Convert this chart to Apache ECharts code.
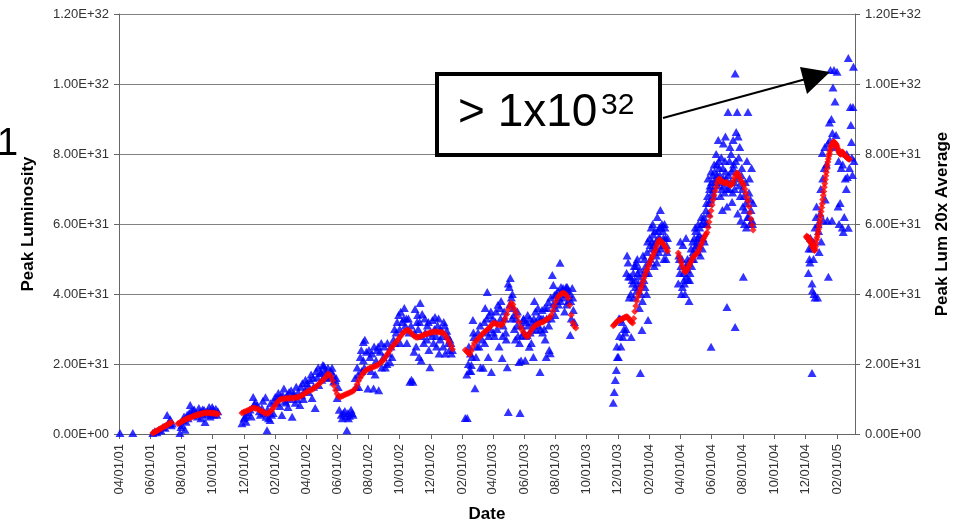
<!DOCTYPE html>
<html>
<head>
<meta charset="utf-8">
<script src="https://cdn.jsdelivr.net/npm/echarts@6/dist/echarts.min.js"></script>
<style>
html,body{margin:0;padding:0;background:#fff;}
#chart{width:963px;height:524px;}
</style>
</head>
<body>
<div id="chart"></div>
<script>
// ---------- DATA ----------
const startDate = '2001-04-01';
const endDate = '2005-03-08';
const tickDates = ['2001-04-01','2001-06-01','2001-08-01','2001-10-01','2001-12-01','2002-02-01','2002-04-01','2002-06-01','2002-08-01','2002-10-01','2002-12-01','2003-02-01','2003-04-01','2003-06-01','2003-08-01','2003-10-01','2003-12-01','2004-02-01','2004-04-01','2004-06-01','2004-08-01','2004-10-01','2004-12-01','2005-02-01'];
const valueUnit = 1e31;

// Peak luminosity (units of 1E31), [days since 04/01/01, value]
const blue2001 = [[2,0.03],[27,0.03],[66,0.03],[70,0.08],[74,0.05],[78,0.12],[82,0.1],[86,0.2],[90,0.18],[94,0.54],[96,0.3],[98,0.31],[100,0.42],[102,0.25],[104,0.3],[119,0.03],[121,0.2],[123,0.26],[125,0.4],[127,0.5],[129,0.12],[131,0.35],[133,0.55],[135,0.45],[137,0.6],[139,0.83],[141,0.65],[143,0.55],[145,0.68],[147,0.7],[150,0.6],[153,0.5],[156,0.74],[158,0.62],[160,0.45],[162,0.58],[163,0.7],[166,0.69],[168,0.34],[169,0.62],[171,0.55],[173,0.65],[176,0.77],[178,0.5],[180,0.6],[182,0.77],[184,0.7],[185,0.55],[187,0.6],[189,0.72],[191,0.55],[193,0.65],[240,0.31],[244,0.45],[246,0.49],[248,0.35],[250,0.55],[252,0.63],[256,0.7],[258,0.5],[262,1.06],[264,0.85],[266,0.9],[270,0.83],[274,0.65]];
const blue2002 = [[276,0.55],[279,0.74],[281,0.95],[283,0.6],[286,1.05],[287,0.49],[289,0.11],[290,0.7],[292,0.45],[295,0.4],[296,0.88],[298,0.55],[301,0.6],[303,0.95],[305,1.06],[308,0.9],[310,1.05],[311,1.17],[314,0.8],[316,1.1],[318,0.54],[320,1.11],[322,1.3],[324,0.95],[326,0.9],[328,1.11],[330,0.77],[332,1.2],[334,1.0],[336,1.25],[338,0.49],[340,1.11],[342,1.15],[344,0.89],[346,1.35],[348,1.0],[350,1.2],[353,0.83],[355,1.35],[357,1.11],[358,1.45],[360,1.0],[363,1.26],[364,1.55],[367,1.46],[369,1.35],[370,1.2],[373,1.54],[375,1.7],[377,1.03],[379,1.6],[380,1.35],[383,0.74],[385,1.8],[387,1.63],[389,1.9],[390,1.4],[393,1.74],[395,1.75],[396,1.55],[398,1.97],[400,1.95],[402,1.83],[404,1.72],[405,1.6],[408,1.89],[410,1.7],[412,1.63],[414,1.8],[416,1.89],[418,1.7],[419,1.5],[422,1.54],[424,1.6],[426,1.03],[428,1.34],[430,0.69],[434,0.55],[436,0.45],[438,0.6],[441,0.66],[443,0.5],[445,0.11],[447,0.6],[448,0.45],[450,0.52],[453,0.69],[455,0.6],[457,0.55]];
const blue2002b = [[461,1.6],[463,1.34],[465,1.9],[467,1.7],[468,1.34],[471,2.2],[473,2.4],[474,1.8],[477,2.11],[477,2.63],[479,1.9],[480,2.69],[483,2.35],[486,1.3],[488,2.4],[490,2.2],[492,1.8],[494,2.3],[497,1.3],[498,2.5],[500,1.7],[502,2.1],[504,2.4],[506,2.5],[507,1.25],[510,2.35],[512,2.6],[513,1.9],[516,2.2],[518,2.5],[520,1.9],[523,2.0],[524,2.6],[526,2.3],[529,2.05],[531,2.5],[533,2.2],[536,2.7],[538,3.0],[539,2.6],[541,2.9],[543,3.2],[546,3.4],[548,3.0],[549,2.6],[550,3.49],[553,3.2],[556,3.3],[557,3.6],[559,3.1],[561,3.3],[562,2.6],[565,3.3],[566,2.9],[568,1.49],[570,3.1],[571,1.55],[574,1.49],[576,2.35],[577,2.9],[578,3.57],[580,2.5],[582,3.2],[583,3.4],[584,3.0],[586,2.2],[587,3.2],[588,3.74],[590,2.1],[591,2.8],[592,3.43],[595,2.6],[597,3.3],[598,2.9],[601,2.7],[602,3.1],[604,3.2],[605,2.4],[607,1.91],[609,2.9],[611,2.8],[612,3.26],[614,2.6],[616,3.0],[617,3.34],[619,2.8],[620,2.5],[622,3.1],[624,3.3],[625,2.3],[627,2.7],[628,3.0],[631,2.8],[633,2.5],[634,3.2],[636,3.1],[637,2.3]];
const blue2003 = [[640,2.95],[642,2.8],[643,2.6],[645,2.4],[646,2.7],[648,2.6],[649,2.3],[651,2.4],[676,0.46],[679,1.7],[680,0.46],[682,2.0],[683,2.5],[684,1.8],[686,2.3],[687,1.8],[688,1.97],[689,2.2],[691,3.26],[692,2.9],[693,2.77],[695,1.31],[697,2.2],[699,2.5],[701,2.9],[703,2.5],[705,3.1],[706,1.9],[709,2.7],[711,1.89],[713,3.2],[714,2.6],[715,3.6],[717,2.9],[718,3.3],[719,4.06],[721,2.2],[722,2.8],[723,3.4],[725,3.0],[726,3.5],[727,1.77],[730,3.3],[731,2.9],[733,2.8],[735,3.2],[736,3.5],[738,3.0],[740,3.69],[742,2.5],[744,3.6],[745,3.3],[746,3.8],[748,2.17],[749,2.8],[750,3.1],[752,3.5],[753,3.3],[755,2.9],[756,2.7],[758,1.91],[760,0.63],[760,4.3],[762,4.2],[763,3.7],[764,4.46],[766,3.9],[767,3.3],[768,4.0],[770,3.6],[771,3.4],[772,3.0],[774,2.7],[775,3.3],[777,3.1],[778,3.5],[779,2.8],[781,2.06],[782,2.6],[783,0.6],[785,2.1],[786,3.1],[787,2.83],[789,3.26],[790,3.3],[791,2.9],[793,2.11],[794,2.8],[795,3.2],[797,2.83],[798,3.4],[799,3.1],[801,2.49],[802,3.3],[803,2.9],[805,2.6],[806,3.0],[807,3.2],[809,2.2],[810,3.3],[811,3.8],[813,3.5],[814,3.2],[815,2.97],[817,3.1],[818,3.6],[820,3.34],[822,1.77],[823,3.0],[824,3.3],[826,3.54],[827,2.9],[828,3.3],[830,3.0],[831,3.6],[832,2.7],[834,2.2],[835,3.3],[836,3.6],[838,3.77],[839,3.1],[840,2.4],[842,2.31],[843,3.9],[844,3.3],[846,4.54],[847,3.7],[848,4.26],[850,3.97],[851,3.4],[852,3.6],[854,4.0],[855,3.8],[857,4.1],[858,3.7],[859,3.9],[861,4.89],[862,3.8],[863,4.2],[865,4.0],[866,4.1],[867,4.17],[869,3.9],[870,3.5],[871,4.1],[873,4.2],[874,3.7],[875,4.2],[877,3.8],[878,4.1],[879,4.0],[881,2.83],[882,3.8],[883,3.3],[885,4.17],[886,3.9],[887,3.54],[889,3.2]];
const blue2003b = [[965,0.89],[967,1.2],[969,1.54],[971,1.83],[972,2.5],[973,2.2],[975,2.2],[976,3.3],[977,2.8],[978,3.3],[980,2.5],[982,3.2],[984,2.77],[986,3.0],[988,2.9],[990,3.0],[991,4.6],[992,5.1],[994,4.9],[995,4.5],[996,3.9],[998,4.5],[999,4.0],[1000,2.77],[1002,4.4],[1003,4.3]];
const blue2004 = [[1004,4.6],[1005,3.9],[1006,4.8],[1007,4.4],[1008,4.2],[1009,4.8],[1010,4.9],[1011,4.1],[1012,5.0],[1013,4.6],[1014,4.3],[1015,4.5],[1016,3.6],[1017,4.7],[1018,1.74],[1019,4.0],[1020,4.3],[1021,2.97],[1022,3.8],[1023,5.1],[1024,4.6],[1025,4.4],[1026,5.0],[1027,4.2],[1028,4.8],[1029,4.6],[1030,4.0],[1031,5.2],[1032,5.5],[1033,3.26],[1034,4.6],[1035,4.9],[1036,5.6],[1037,5.4],[1038,5.0],[1039,5.9],[1040,5.3],[1041,5.5],[1042,6.0],[1043,5.7],[1044,5.4],[1045,4.8],[1046,5.8],[1047,5.3],[1048,5.5],[1049,5.1],[1050,4.9],[1051,6.2],[1052,5.8],[1053,5.6],[1054,5.2],[1055,5.9],[1056,5.6],[1057,6.4],[1058,5.3],[1059,5.9],[1060,6.0],[1061,5.4],[1062,5.8],[1063,5.6],[1064,5.0],[1065,6.0],[1066,5.9],[1067,5.6],[1068,5.0],[1069,5.4],[1070,5.2],[1071,5.6]];
const blue2004b = [[1092,4.3],[1093,5.1],[1094,5.0],[1095,4.6],[1096,5.5],[1097,4.8],[1098,4.0],[1099,5.0],[1100,4.2],[1101,5.4],[1102,4.6],[1103,4.4],[1104,4.3],[1105,4.0],[1106,4.8],[1107,5.6],[1108,4.5],[1109,4.7],[1110,5.0],[1111,4.4],[1112,4.9],[1113,3.8],[1114,4.4],[1115,4.6],[1116,5.0],[1117,5.3],[1118,4.8],[1119,5.0],[1120,5.5],[1121,5.2],[1122,5.0],[1123,5.6],[1124,5.3],[1125,5.9],[1126,5.8],[1127,5.4],[1128,5.5],[1129,5.2],[1130,5.6],[1131,6.0],[1132,5.4],[1133,5.7],[1134,5.9],[1135,5.1],[1136,5.6],[1137,6.2],[1138,6.0],[1139,5.3],[1140,5.6],[1141,6.1],[1142,6.2],[1143,5.5],[1145,6.0],[1146,6.4],[1147,6.6],[1148,6.0],[1149,6.8],[1150,7.3],[1151,6.3],[1152,6.6],[1153,7.0],[1154,7.1],[1155,6.7],[1156,2.49],[1156,7.5],[1157,7.2],[1158,6.9],[1159,7.4],[1160,7.0],[1161,6.8],[1162,7.7],[1163,7.5],[1164,7.2],[1165,7.3],[1166,8.0],[1167,7.7],[1168,7.4],[1169,7.1],[1170,8.4],[1171,7.8],[1172,7.6],[1173,7.4],[1174,6.8],[1175,7.2],[1176,7.9],[1177,7.0],[1178,6.4],[1179,7.6],[1180,7.3],[1180,8.3],[1181,7.1],[1182,6.9],[1183,7.8],[1184,7.5],[1184,8.5],[1185,7.3],[1187,6.5],[1187,3.63],[1188,7.0],[1189,9.2],[1190,7.4],[1191,7.0],[1192,7.8],[1193,8.2],[1194,7.2],[1195,8.0],[1196,7.5],[1197,6.63],[1198,6.9],[1199,7.6],[1199,8.4],[1200,7.7],[1201,7.2],[1202,7.0],[1203,10.3],[1203,3.06],[1204,7.8],[1205,8.63],[1206,7.3],[1207,9.2],[1208,6.3],[1209,8.5],[1210,7.9],[1211,7.1],[1212,8.2],[1213,6.8],[1214,6.1],[1215,7.4],[1216,7.6],[1217,7.0],[1218,6.5],[1219,4.49],[1220,6.8],[1221,6.0],[1222,6.4],[1223,7.2],[1224,6.6],[1225,5.9],[1226,7.8],[1227,6.2],[1228,9.2],[1229,6.2],[1230,6.9],[1231,7.3],[1232,6.0],[1233,6.7],[1234,6.4],[1235,7.6],[1236,6.1],[1237,6.0],[1238,6.6]];
const blue2005 = [[1346,4.6],[1347,5.3],[1348,5.0],[1349,4.9],[1350,5.6],[1351,5.3],[1353,1.74],[1353,4.3],[1354,4.1],[1355,5.5],[1356,5.0],[1357,4.0],[1359,3.9],[1359,5.9],[1361,6.2],[1362,6.5],[1364,3.9],[1365,6.0],[1366,5.8],[1367,5.2],[1369,6.3],[1370,7.0],[1371,5.5],[1373,8.03],[1374,7.3],[1375,6.1],[1377,7.6],[1378,8.2],[1379,6.7],[1381,7.7],[1383,6.1],[1384,8.3],[1385,4.49],[1387,8.9],[1388,8.4],[1389,10.4],[1391,9.0],[1392,6.1],[1393,8.6],[1394,9.9],[1396,10.4],[1398,9.5],[1399,8.2],[1400,8.54],[1402,10.35],[1404,6.5],[1405,7.8],[1406,6.0],[1408,6.6],[1410,7.6],[1412,5.9],[1413,7.7],[1414,5.77],[1416,6.2],[1418,7.3],[1420,7.0],[1421,8.0],[1422,7.34],[1424,10.74],[1424,5.89],[1426,7.6],[1428,9.34],[1429,8.83],[1430,8.34],[1431,7.9],[1432,7.4],[1433,9.34],[1434,10.49],[1435,7.8]];

// 20x average (units of 1E31), runs of readings; start day and day step per run
const redStart = [66, 115, 240, 676, 965, 1092, 1342];
const redStep = [2, 2, 3, 3, 2, 2, 1];
const red1 = [0.03,0.04,0.06,0.08,0.09,0.11,0.13,0.14,0.16,0.18,0.2,0.21,0.23,0.25,0.26,0.28,0.3,0.31,0.33];
const red2 = [0.29,0.31,0.33,0.35,0.36,0.38,0.40,0.41,0.43,0.44,0.45,0.46,0.47,0.48,0.49,0.51,0.52,0.53,0.54,0.55,0.56,0.56,0.57,0.58,0.59,0.59,0.6,0.6,0.61,0.61,0.6,0.61,0.6,0.6,0.59,0.6,0.59,0.58,0.58,0.57];
const red3 = [0.60,0.62,0.64,0.66,0.68,0.70,0.72,0.74,0.74,0.73,0.72,0.70,0.67,0.65,0.62,0.60,0.58,0.59,0.62,0.67,0.72,0.78,0.84,0.91,0.96,0.99,1.00,1.01,1.01,1.02,1.02,1.02,1.03,1.03,1.03,1.04,1.05,1.06,1.08,1.10,1.13,1.16,1.19,1.22,1.24,1.26,1.28,1.31,1.35,1.38,1.42,1.47,1.51,1.55,1.60,1.66,1.72,1.70,1.63,1.52,1.38,1.25,1.14,1.07,1.06,1.08,1.10,1.12,1.14,1.16,1.18,1.20,1.22,1.25,1.32,1.42,1.52,1.61,1.68,1.74,1.79,1.83,1.86,1.88,1.89,1.91,1.92,1.94,1.96,1.99,2.03,2.07,2.11,2.17,2.24,2.30,2.37,2.44,2.51,2.56,2.61,2.66,2.72,2.78,2.84,2.89,2.93,2.96,2.97,2.94,2.89,2.84,2.80,2.77,2.76,2.77,2.79,2.80,2.82,2.84,2.86,2.87,2.89,2.90,2.91,2.92,2.92,2.92,2.91,2.91,2.90,2.89,2.84,2.77,2.70,2.62,2.52,2.42];
const red4 = [2.40,2.36,2.31,2.28,2.38,2.50,2.60,2.66,2.71,2.76,2.80,2.85,2.89,2.93,2.97,3.01,3.06,3.11,3.16,3.17,3.15,3.13,3.12,3.11,3.12,3.20,3.30,3.42,3.55,3.66,3.74,3.70,3.58,3.47,3.35,3.20,3.06,2.97,2.90,2.83,2.78,2.80,2.88,2.96,3.03,3.08,3.11,3.14,3.16,3.18,3.19,3.21,3.24,3.27,3.30,3.33,3.40,3.52,3.66,3.79,3.89,3.95,3.99,4.02,4.03,4.01,3.96,3.88,3.68,3.40,3.18,3.08,3.03];
const red5 = [3.09,3.12,3.15,3.19,3.22,3.24,3.26,3.27,3.28,3.30,3.31,3.33,3.34,3.35,3.34,3.30,3.26,3.22,3.19,3.17,3.30,3.50,3.66,3.80,3.92,4.02,4.10,4.18,4.26,4.36,4.46,4.55,4.64,4.70,4.78,4.86,4.93,5.00,5.06,5.12,5.19,5.26,5.34,5.43,5.50,5.54,5.52,5.49,5.46,5.42,5.38,5.33,5.28,5.22];
const red6 = [5.17,5.08,4.98,4.89,4.80,4.72,4.65,4.63,4.66,4.72,4.78,4.84,4.90,4.96,5.02,5.07,5.10,5.13,5.16,5.20,5.26,5.33,5.40,5.47,5.54,5.60,5.66,5.71,5.76,5.90,6.06,6.22,6.38,6.54,6.69,6.82,6.94,7.06,7.17,7.26,7.29,7.27,7.23,7.20,7.18,7.17,7.18,7.19,7.17,7.14,7.12,7.11,7.12,7.16,7.24,7.33,7.41,7.46,7.45,7.40,7.32,7.25,7.20,7.16,7.10,7.00,6.88,6.76,6.66,6.50,6.32,6.14,5.97,5.83];
const red7 = [5.63,5.66,5.60,5.58,5.62,5.55,5.57,5.50,5.47,5.52,5.44,5.40,5.36,5.33,5.30,5.26,5.24,5.28,5.36,5.45,5.55,5.62,5.70,5.78,5.86,5.95,6.05,6.14,6.24,6.36,6.47,6.58,6.70,6.82,6.93,7.05,7.16,7.27,7.38,7.48,7.58,7.68,7.77,7.86,7.94,8.01,8.08,8.14,8.20,8.24,8.28,8.31,8.33,8.35,8.34,8.33,8.31,8.30,8.27,8.24,8.20,8.16,8.12,8.08,8.05,8.02,8.00,7.99,8.01,8.04,8.06,8.05,8.03,8.00,7.98,7.96,7.95,7.93,7.92,7.90,7.89,7.88,7.87,7.86,7.85];

// ---------- BUILD ----------
function dayOf(s){ const p=s.split('-').map(Number); const q=startDate.split('-').map(Number);
  return Math.round((Date.UTC(p[0],p[1]-1,p[2])-Date.UTC(q[0],q[1]-1,q[2]))/864e5); }
function dayLabel(d){ const q=startDate.split('-').map(Number);
  const dt=new Date(Date.UTC(q[0],q[1]-1,q[2])+Math.round(d)*864e5);
  const p2=n=>String(n).padStart(2,'0');
  return p2(dt.getUTCMonth()+1)+'/'+p2(dt.getUTCDate())+'/'+p2(dt.getUTCFullYear()%100); }
function sci(v){ let s=Number(v).toExponential(2).toUpperCase(); return s.replace(/E([+-])(\d)$/,'E$10$2'); }

const blueData = [].concat(blue2001, blue2002, blue2002b, blue2003, blue2003b, blue2004, blue2004b, blue2005).map(p=>[p[0], p[1]*valueUnit]);
const redRuns = [red1, red2, red3, red4, red5, red6, red7];
const redData = [];
redRuns.forEach((run,i)=>run.forEach((v,j)=>redData.push([redStart[i]+j*redStep[i], v*valueUnit])));
const tickDays = tickDates.map(dayOf);

const axisColor = '#666';
const labelStyle = {color:'#333', fontSize:13, fontFamily:'Liberation Sans, Arial, sans-serif'};
const nameStyle = {color:'#000', fontSize:17, fontWeight:'bold', fontFamily:'Liberation Sans, Arial, sans-serif'};

const chart = echarts.init(document.getElementById('chart'), null, {renderer:'canvas'});
chart.setOption({
  animation:false,
  backgroundColor:'#fff',
  grid:{left:119, right:108, top:14, bottom:90, outerBoundsMode:'none', containLabel:false},
  xAxis:{
    type:'value', min:0, max:dayOf(endDate),
    name:'Date', nameLocation:'middle', nameGap:72, nameTextStyle:nameStyle,
    splitLine:{show:false},
    axisLine:{lineStyle:{color:axisColor, width:1}},
    axisTick:{customValues:tickDays, length:5, lineStyle:{color:axisColor}},
    axisLabel:Object.assign({customValues:tickDays, rotate:90, margin:10, formatter:dayLabel}, labelStyle)
  },
  yAxis:[{
    type:'value', min:0, max:1.2e32, interval:2e31, position:'left',
    name:'Peak Luminosity', nameLocation:'middle', nameRotate:90, nameGap:82, nameTextStyle:nameStyle,
    axisLine:{show:true, lineStyle:{color:axisColor, width:1}},
    axisTick:{show:true, length:5, lineStyle:{color:axisColor}},
    splitLine:{show:true, lineStyle:{color:'#808080', width:1}},
    axisLabel:Object.assign({margin:10, formatter:sci}, labelStyle)
  },{
    type:'value', min:0, max:1.2e32, interval:2e31, position:'right',
    name:'Peak Lum 20x Average', nameLocation:'middle', nameRotate:90, nameGap:79, nameTextStyle:nameStyle,
    axisLine:{show:true, lineStyle:{color:axisColor, width:1}},
    axisTick:{show:true, length:5, lineStyle:{color:axisColor}},
    splitLine:{show:false},
    axisLabel:Object.assign({margin:10, formatter:sci}, labelStyle)
  }],
  series:[{
    name:'Peak Luminosity', type:'scatter', yAxisIndex:0, data:blueData,
    symbol:'triangle', symbolSize:[9,8], itemStyle:{color:'#0000FF'}, z:2
  },{
    name:'Peak Lum 20x Average', type:'scatter', yAxisIndex:1, data:redData,
    symbol:'diamond', symbolSize:7, itemStyle:{color:'#FF0000'}, z:3
  }],
  graphic:[
    {type:'text', x:-3, y:126, z:100, style:{text:'1', font:'38px Liberation Sans, Arial, sans-serif', fill:'#000'}},
    {type:'line', z:100, shape:{x1:663, y1:118, x2:806, y2:79}, style:{stroke:'#000', lineWidth:2}},
    {type:'polygon', z:101, shape:{points:[[830,72],[800,67],[807,94]]}, style:{fill:'#000'}},
    {type:'rect', z:100, shape:{x:437, y:74, width:223, height:81}, style:{fill:'#fff', stroke:'#000', lineWidth:4}},
    {type:'text', x:458, y:90, z:102, style:{text:'> 1x10', font:'46px Liberation Sans, Arial, sans-serif', fill:'#000'}},
    {type:'text', x:601, y:91, z:102, style:{text:'32', font:'30px Liberation Sans, Arial, sans-serif', fill:'#000'}}
  ]
});
</script>
</body>
</html>
